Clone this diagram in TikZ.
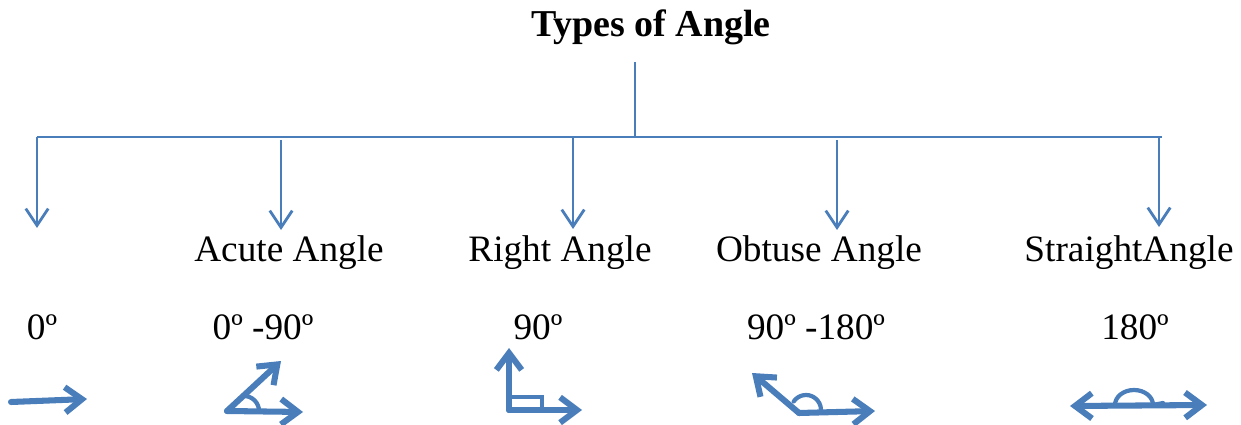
\documentclass[tikz,border=0pt]{standalone}
\usepackage{fontspec}
\setmainfont{Liberation Serif}
\usepackage{xcolor}
\definecolor{angleblue}{RGB}{74, 126, 187}
\usetikzlibrary{
    arrows.meta
}

\begin{document}
\begin{tikzpicture}[
    x=0.025cm, y=0.025cm,
    heading/.style={font=\fontsize{27}{31}\selectfont\bfseries, anchor=base, inner sep=0pt},
    typelabel/.style={font=\fontsize{26.5}{31}\selectfont, anchor=base, inner sep=0pt},
    degtext/.style={font=\fontsize{26.5}{31}\selectfont, anchor=base, inner sep=0pt},
    branch/.style={draw=angleblue, line width=2pt},
    arrow/.style={branch, -{Straight Barb[length=12pt, width=16pt]}},
    sketch/.style={draw=angleblue, line width=4.3pt, line cap=round, line join=round},
    sketcharrow/.style={sketch, -{Straight Barb[length=12pt, width=18pt]}},
    mark arc/.style={draw=angleblue, line width=3pt, line cap=round}
]
    \useasboundingbox (0,0) rectangle (1241,-425);

    \node[heading] (title) at (651,-37) {Types of Angle};

    \coordinate (stemtop) at (635,-62);
    \coordinate (hub) at (635,-137);
    \coordinate (barleft) at (37,-137);
    \coordinate (barright) at (1162,-137);

    \draw[branch] (stemtop) -- (hub);
    \draw[branch] (barleft) -- (barright);

    % drops to the five kinds
    \coordinate (dropzero) at (37,-137);
    \coordinate (tipzero) at (37,-228);
    \coordinate (dropacute) at (281,-140);
    \coordinate (tipacute) at (281,-230);
    \coordinate (dropright) at (573,-137);
    \coordinate (tipright) at (573,-229);
    \coordinate (dropobtuse) at (837,-140);
    \coordinate (tipobtuse) at (837,-230);
    \coordinate (dropstraight) at (1159,-137);
    \coordinate (tipstraight) at (1159,-227);

    \draw[arrow] (dropzero) -- (tipzero);
    \draw[arrow] (dropacute) -- (tipacute);
    \draw[arrow] (dropright) -- (tipright);
    \draw[arrow] (dropobtuse) -- (tipobtuse);
    \draw[arrow] (dropstraight) -- (tipstraight);

    \node[typelabel] (acute) at (289,-262) {Acute Angle};
    \node[typelabel] (right) at (560,-262) {Right Angle};
    \node[typelabel] (obtuse) at (819,-262) {Obtuse Angle};
    \node[typelabel] (straight) at (1129,-262) {StraightAngle};

    \node[degtext] (zerodeg) at (42,-340) {0º};
    \node[degtext] (acutedeg) at (263,-340) {0º -90º};
    \node[degtext] (rightdeg) at (538,-340) {90º};
    \node[degtext] (obtusedeg) at (816,-340) {90º -180º};
    \node[degtext] (straightdeg) at (1135,-340) {180º};

    % sketches of the angles
    \draw[sketcharrow] (11,-402) -- (87,-399);

    \draw[sketcharrow] (227,-411) -- (303,-412);
    \draw[sketcharrow] (227,-411) -- (281,-361);
    \draw[mark arc] (244,-396) arc[start angle=90, end angle=0, radius=15];

    \draw[sketcharrow] (509,-410) -- (509,-348);
    \draw[sketcharrow] (509,-410) -- (582,-410);
    \draw[mark arc] (509,-397) rectangle (542,-410);

    \draw[sketcharrow] (799,-413) -- (752,-373);
    \draw[sketcharrow] (799,-413) -- (875,-411);
    \draw[mark arc] (806,-410) ++(145:15) arc[start angle=145, end angle=0, radius=15];

    \draw[sketch, {Straight Barb[length=12pt, width=18pt]}-{Straight Barb[length=12pt, width=18pt]}] (1070,-406) -- (1207,-405);
    \draw[mark arc] (1115,-405) arc[start angle=180, end angle=0, x radius=19, y radius=15] -- (1163,-403);
\end{tikzpicture}
\end{document}
